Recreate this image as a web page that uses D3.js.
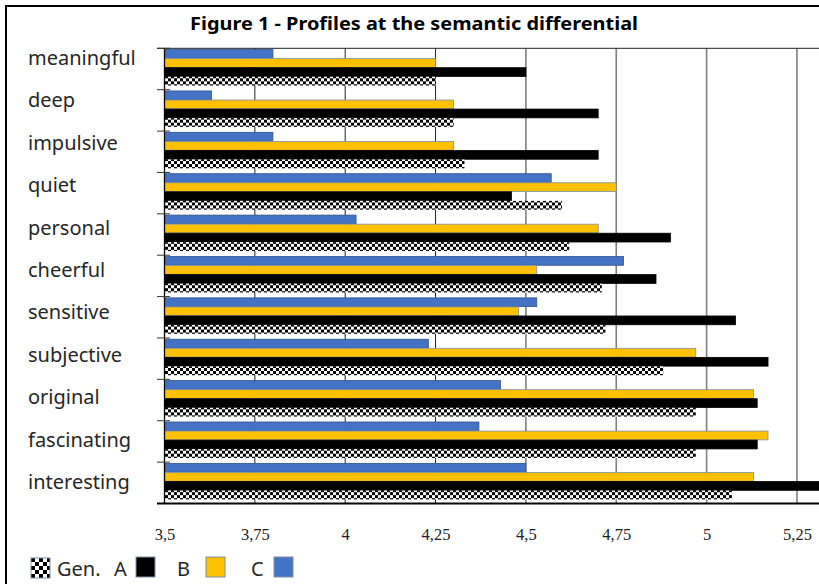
<!DOCTYPE html>
<html>
<head>
<meta charset="utf-8">
<script src="https://cdn.jsdelivr.net/npm/d3@7"></script>
<style>
  html, body { margin: 0; padding: 0; background: #fff; }
  svg { display: block; }
</style>
</head>
<body>
<svg id="chart" width="819" height="584"></svg>
<script>
// Semantic differential profiles: mean ratings per adjective
const adjectives = ["meaningful", "deep", "impulsive", "quiet", "personal", "cheerful",
                    "sensitive", "subjective", "original", "fascinating", "interesting"];
const seriesNames = ["C", "B", "A", "Gen."];
const valuesC   = [3.80, 3.63, 3.80, 4.57, 4.03, 4.77, 4.53, 4.23, 4.43, 4.37, 4.50];
const valuesB   = [4.25, 4.30, 4.30, 4.75, 4.70, 4.53, 4.48, 4.97, 5.13, 5.17, 5.13];
const valuesA   = [4.50, 4.70, 4.70, 4.46, 4.90, 4.86, 5.08, 5.17, 5.14, 5.14, 5.35];
const valuesGen = [4.25, 4.30, 4.33, 4.60, 4.62, 4.71, 4.72, 4.88, 4.97, 4.97, 5.07];
const xTicks = [3.5, 3.75, 4, 4.25, 4.5, 4.75, 5, 5.25];
const xTickLabels = ["3,5", "3,75", "4", "4,25", "4,5", "4,75", "5", "5,25"];
const titleText = "Figure 1 - Profiles at the semantic differential";

const seriesValues = { "C": valuesC, "B": valuesB, "A": valuesA, "Gen.": valuesGen };
const seriesFill = { "C": "#4472C4", "B": "#FFC000", "A": "#000000", "Gen.": "url(#checker)" };
const seriesStroke = { "C": "#2F528F", "B": "#7F8FA9", "A": "#000000", "Gen.": "none" };

const svg = d3.select("#chart");
const sansFont = "'Noto Sans', 'Open Sans', sans-serif";

// checkerboard fill used for the general sample
const defs = svg.append("defs");
const pat = defs.append("pattern").attr("id", "checker")
  .attr("patternUnits", "userSpaceOnUse").attr("width", 6).attr("height", 6)
  .attr("x", 0).attr("y", 0);
pat.append("rect").attr("width", 6).attr("height", 6).attr("fill", "#fff");
pat.append("rect").attr("x", 0).attr("y", 0).attr("width", 3).attr("height", 3).attr("fill", "#000");
pat.append("rect").attr("x", 3).attr("y", 3).attr("width", 3).attr("height", 3).attr("fill", "#000");

const patBig = defs.append("pattern").attr("id", "checkerBig")
  .attr("patternUnits", "userSpaceOnUse").attr("width", 8).attr("height", 8)
  .attr("x", 31).attr("y", 558);
patBig.append("rect").attr("width", 8).attr("height", 8).attr("fill", "#fff");
patBig.append("rect").attr("x", 0).attr("y", 0).attr("width", 4).attr("height", 4).attr("fill", "#000");
patBig.append("rect").attr("x", 4).attr("y", 4).attr("width", 4).attr("height", 4).attr("fill", "#000");

// outer frame (continues past the right and bottom edges)
svg.append("rect").attr("x", 6).attr("y", 6).attr("width", 840).attr("height", 600)
  .attr("fill", "none").attr("stroke", "#000").attr("stroke-width", 2);

// title
svg.append("text").attr("x", 414).attr("y", 30).attr("text-anchor", "middle")
  .attr("font-family", sansFont).attr("font-weight", "bold").attr("font-size", 18.5)
  .attr("textLength", 448).attr("lengthAdjust", "spacingAndGlyphs")
  .attr("fill", "#000").text(titleText);

// scales
const x = d3.scaleLinear().domain([3.5, 5.5]).range([164.5, 887.3]);
const y = d3.scaleBand().domain(adjectives).range([48.3, 503.5]).padding(0);
const ySub = d3.scaleBand().domain(seriesNames).range([1, 37.5]).padding(0.03);
const yLabel = d3.scalePoint().domain(adjectives).range([65, 489]);

// vertical gridlines
svg.append("g").selectAll("line").data(xTicks.slice(1)).join("line")
  .attr("x1", d => x(d)).attr("x2", d => x(d))
  .attr("y1", 48.3).attr("y2", 503.5)
  .attr("stroke", d => d <= 4.25 ? "#222" : "#7f7f7f")
  .attr("stroke-width", d => d <= 4.25 ? 1 : 1.6);

// top edge of plot area
svg.append("line").attr("x1", 157).attr("x2", 900).attr("y1", 48.3).attr("y2", 48.3)
  .attr("stroke", "#222").attr("stroke-width", 1);

// bars
const rows = adjectives.map((a, i) => ({ adj: a, i }));
const groups = svg.append("g").selectAll("g").data(rows).join("g")
  .attr("transform", d => `translate(0,${y(d.adj)})`);
groups.selectAll("rect").data(d => seriesNames.map(s => ({ s, v: seriesValues[s][d.i] })))
  .join("rect")
  .attr("x", x(3.5))
  .attr("y", d => ySub(d.s))
  .attr("width", d => x(d.v) - x(3.5))
  .attr("height", ySub.bandwidth())
  .attr("fill", d => seriesFill[d.s])
  .attr("stroke", d => seriesStroke[d.s])
  .attr("stroke-width", 0.8);

// left axis with ticks at category boundaries
const bounds = adjectives.map(a => y(a)).concat([y.range()[1]]);
svg.append("line").attr("x1", x(3.5)).attr("x2", x(3.5)).attr("y1", 48.3).attr("y2", 503.5)
  .attr("stroke", "#000").attr("stroke-width", 1.3);
svg.append("g").selectAll("line").data(bounds).join("line")
  .attr("x1", 157).attr("x2", 170).attr("y1", d => d).attr("y2", d => d)
  .attr("stroke", "#333").attr("stroke-width", 1);

// bottom axis line
svg.append("line").attr("x1", 157).attr("x2", 900).attr("y1", 503.5).attr("y2", 503.5)
  .attr("stroke", "#000").attr("stroke-width", 2);

// x tick labels
const xAxis = d3.axisBottom(x).tickValues(xTicks).tickSize(0)
  .tickFormat((d, i) => xTickLabels[i]);
const gx = svg.append("g").attr("transform", "translate(0,525)").call(xAxis);
gx.select(".domain").remove();
gx.selectAll("text").attr("font-family", "'Liberation Serif', 'Times New Roman', serif")
  .attr("font-size", 16.5).attr("fill", "#222");

// category labels
svg.append("g").selectAll("text").data(adjectives).join("text")
  .attr("x", 28).attr("y", d => yLabel(d))
  .attr("font-family", sansFont).attr("font-size", 20).attr("fill", "#262626")
  .text(d => d);

// legend
const lg = svg.append("g");
lg.append("rect").attr("x", 31).attr("y", 558).attr("width", 19).attr("height", 20)
  .attr("fill", "url(#checkerBig)").attr("stroke", "#7F8FA9").attr("stroke-width", 1);
lg.append("text").attr("x", 57).attr("y", 576).attr("font-family", sansFont)
  .attr("font-size", 20).attr("fill", "#262626").text("Gen.");
const legendItems = [
  { s: "A", tx: 114, bx: 136 },
  { s: "B", tx: 177, bx: 206 },
  { s: "C", tx: 251, bx: 274 }
];
lg.selectAll("text.lbl").data(legendItems).join("text").attr("class", "lbl")
  .attr("x", d => d.tx).attr("y", 576).attr("font-family", sansFont)
  .attr("font-size", 20).attr("fill", "#262626").text(d => d.s);
lg.selectAll("rect.sw").data(legendItems).join("rect").attr("class", "sw")
  .attr("x", d => d.bx).attr("y", 557).attr("width", 19).attr("height", 20)
  .attr("fill", d => seriesFill[d.s]).attr("stroke", "#7F8FA9").attr("stroke-width", 1);
</script>
</body>
</html>
